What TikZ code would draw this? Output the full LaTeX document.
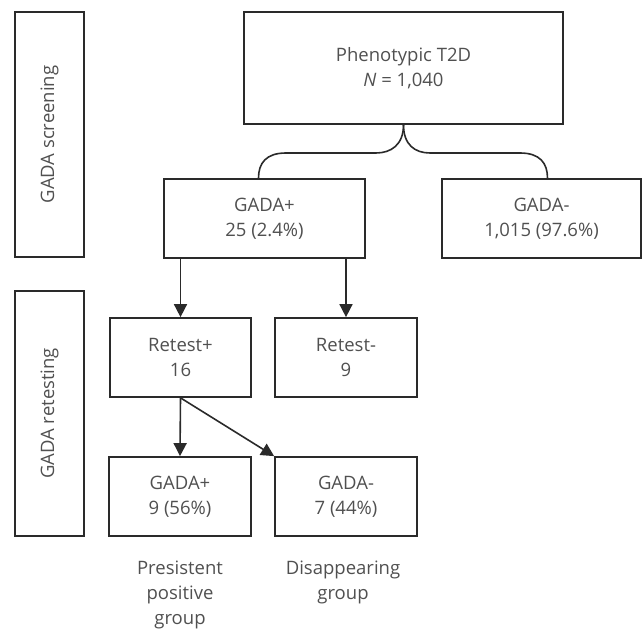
\documentclass[tikz,border=0pt]{standalone}
\usepackage{fontspec}
\setmainfont{Open Sans}
\usetikzlibrary{arrows.meta,calc}
\definecolor{ln}{HTML}{2A2A2A}
\definecolor{tx}{HTML}{505050}
\begin{document}
\begin{tikzpicture}[x=1pt,y=-1pt,
  every node/.style={text=tx,font=\fontsize{18.5}{25}\selectfont,align=center},
  box/.style={draw=ln,line width=1.7pt,inner sep=0pt,minimum height=79pt},
  sidebox/.style={draw=ln,line width=1.7pt,inner sep=0pt,minimum width=69pt,minimum height=245pt},
  arr/.style={draw=ln,line width=1.6pt,-{Triangle[length=13pt,width=13pt]}},
  brace/.style={draw=ln,line width=1.6pt},
  lbl/.style={anchor=north,inner sep=0pt}]
\useasboundingbox (0,0) rectangle (643,631);
% side boxes
\node[sidebox] (scr) at (49.5,134.5) {};
\node[rotate=90] (scrt) at (scr.center) {GADA screening};
\node[sidebox] (ret) at (49.5,413.5) {};
\node[rotate=90] (rett) at (ret.center) {GADA retesting};
% main boxes
\node[box,minimum width=319pt,minimum height=112pt] (phen) at (403.5,68) {Phenotypic T2D\\\textit{N} = 1,040};
\node[box,minimum width=201pt] (gpos) at (264.5,218.5) {GADA+\\25 (2.4\%)};
\node[box,minimum width=199pt] (gneg) at (541.5,218.5) {GADA-\\1,015 (97.6\%)};
\node[box,minimum width=141pt] (rpos) at (180.5,357.5) {Retest+\\16};
\node[box,minimum width=142pt] (rneg) at (346,357.5) {Retest-\\9};
\node[box,minimum width=142pt] (n9) at (180,496.5) {GADA+\\9 (56\%)};
\node[box,minimum width=142pt] (n7) at (346,496.5) {GADA-\\7 (44\%)};
% labels
\node[lbl] (l1) at (180,561) {Presistent\\positive\\group};
\node[lbl] (l2) at (343,561) {Disappearing\\group};
% brace
\coordinate (bL) at ($(gpos.north)+(-6,0)$);
\coordinate (bR) at ($(gneg.north)+(6,0)$);
\coordinate (hL1) at (376,153);
\coordinate (hL2) at (286,153);
\coordinate (hR1) at (430,153);
\coordinate (hR2) at (520,153);
\draw[brace] (phen.south) .. controls +(0,20) and +(15,0) .. (hL1) -- (hL2) .. controls +(-20,0) and +(0,-15) .. (bL);
\draw[brace] (phen.south) .. controls +(0,20) and +(-15,0) .. (hR1) -- (hR2) .. controls +(20,0) and +(0,-15) .. (bR);
% arrows
\draw[arr] (gpos.south -| rpos.north) -- (rpos.north);
\draw[arr] (gpos.south -| rneg.north) -- (rneg.north);
\draw[arr] (rpos.south) -- (n9.north);
\draw[arr] (rpos.south) -- (n7.north west);
\end{tikzpicture}
\end{document}
